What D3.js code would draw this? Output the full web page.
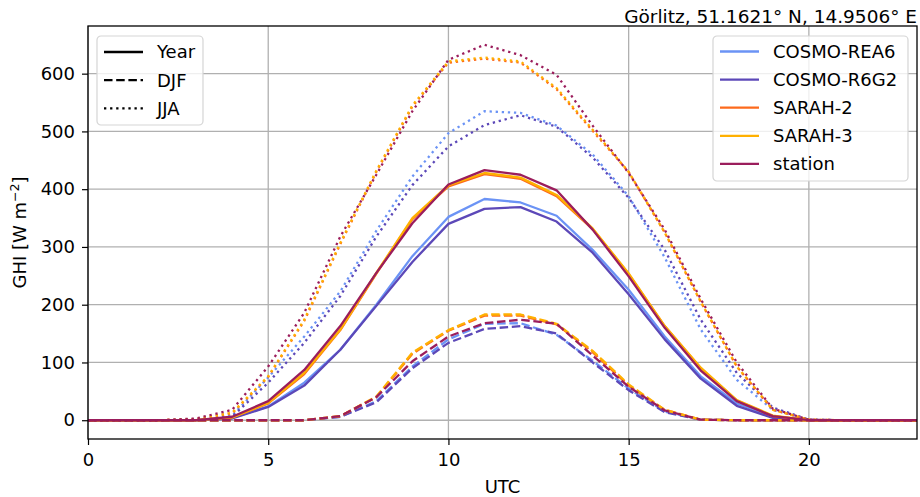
<!DOCTYPE html>
<html>
<head>
<meta charset="utf-8">
<script src="https://cdn.jsdelivr.net/npm/d3@7"></script>
<style>
  body { margin: 0; background: #fff; }
  svg { font-family: "DejaVu Sans", sans-serif; }
</style>
</head>
<body>
<div id="chart_area"></div>
<script>
// hours of the day (UTC)
var hours = d3.range(0, 24);

var datasets = ["COSMO-REA6", "COSMO-R6G2", "SARAH-2", "SARAH-3", "station"];
var colors = ["#6b93f5", "#5c48b8", "#fd6a1c", "#ffb000", "#9b1d5c"];
var periods = ["Year", "DJF", "JJA"];

// mean diurnal GHI, W m-2
var rea6Year  = [0,0,0,0,4,24,65,122,200,284,352,383,377,354,295,226,145,76,29,6,0,0,0,0];
var r6g2Year  = [0,0,0,0,3,23,60,122,198,274,340,366,369,344,290,218,140,72,25,4,0,0,0,0];
var sarah2Year = [0,0,0,0,5,29,80,156,254,348,405,426,418,388,331,253,163,90,34,7,0,0,0,0];
var sarah3Year = [0,0,0,0,5,30,82,157,255,350,407,428,420,390,332,254,163,91,35,8,0,0,0,0];
var stationYear = [0,0,0,0,6,33,87,163,255,341,408,433,425,398,330,249,160,86,33,7,0,0,0,0];

var rea6DJF  = [0,0,0,0,0,0,0,6,33,93,140,167,168,148,103,55,15,1,0,0,0,0,0,0];
var r6g2DJF  = [0,0,0,0,0,0,0,6,31,90,134,158,163,150,100,52,14,1,0,0,0,0,0,0];
var sarah2DJF = [0,0,0,0,0,0,0,7,40,115,155,181,181,166,118,60,18,1,0,0,0,0,0,0];
var sarah3DJF = [0,0,0,0,0,0,0,7,41,117,156,183,183,167,120,62,18,1,0,0,0,0,0,0];
var stationDJF = [0,0,0,0,0,0,0,7,40,102,145,168,174,167,112,58,17,1,0,0,0,0,0,0];

var rea6JJA  = [0,0,0,1,8,74,145,223,328,422,497,535,532,510,460,388,282,157,70,18,1,0,0,0];
var r6g2JJA  = [0,0,0,1,6,65,134,215,318,407,474,511,528,508,455,385,295,174,82,22,1,0,0,0];
var sarah2JJA = [0,0,0,2,12,75,172,305,430,543,619,626,619,573,501,430,325,205,93,18,1,0,0,0];
var sarah3JJA = [0,0,0,2,13,76,174,307,432,545,621,628,621,575,503,430,325,205,93,18,1,0,0,0];
var stationJJA = [0,0,0,3,18,93,186,318,425,535,624,650,632,598,510,428,330,210,100,20,1,0,0,0];

var series = [
  { name: "COSMO-REA6", period: "Year", values: rea6Year },
  { name: "COSMO-REA6", period: "DJF", values: rea6DJF },
  { name: "COSMO-REA6", period: "JJA", values: rea6JJA },
  { name: "COSMO-R6G2", period: "Year", values: r6g2Year },
  { name: "COSMO-R6G2", period: "DJF", values: r6g2DJF },
  { name: "COSMO-R6G2", period: "JJA", values: r6g2JJA },
  { name: "SARAH-2", period: "Year", values: sarah2Year },
  { name: "SARAH-2", period: "DJF", values: sarah2DJF },
  { name: "SARAH-2", period: "JJA", values: sarah2JJA },
  { name: "SARAH-3", period: "Year", values: sarah3Year },
  { name: "SARAH-3", period: "DJF", values: sarah3DJF },
  { name: "SARAH-3", period: "JJA", values: sarah3JJA },
  { name: "station", period: "Year", values: stationYear },
  { name: "station", period: "DJF", values: stationDJF },
  { name: "station", period: "JJA", values: stationJJA }
];

var xTicks = [0, 5, 10, 15, 20];
var yTicks = [0, 100, 200, 300, 400, 500, 600];

var lw = 2.3;
var dashes = { "Year": null, "DJF": (lw * 3.7) + "," + (lw * 1.6), "JJA": lw + "," + (lw * 1.65) };

// set the dimensions and margins of the graph
var margin = { top: 26, right: 3, bottom: 58, left: 88 },
    width = 920 - margin.left - margin.right,
    height = 497 - margin.top - margin.bottom;

var svg = d3.select("#chart_area")
    .append("svg")
    .attr("width", 920)
    .attr("height", 497)
    .append("g")
    .attr("transform", "translate(" + margin.left + "," + margin.top + ")");

var x = d3.scaleLinear().domain([0, 23]).range([0, width]);
var y = d3.scaleLinear().domain([-32.5, 682.5]).range([height, 0]);

// grid
svg.append("g")
    .selectAll("line.vgrid")
    .data(xTicks)
    .enter().append("line")
    .attr("x1", function (d) { return x(d); })
    .attr("x2", function (d) { return x(d); })
    .attr("y1", 0).attr("y2", height)
    .attr("stroke", "#b0b0b0").attr("stroke-width", 1.3);
svg.append("g")
    .selectAll("line.hgrid")
    .data(yTicks)
    .enter().append("line")
    .attr("y1", function (d) { return y(d); })
    .attr("y2", function (d) { return y(d); })
    .attr("x1", 0).attr("x2", width)
    .attr("stroke", "#b0b0b0").attr("stroke-width", 1.3);

svg.append("clipPath").attr("id", "clip")
    .append("rect").attr("width", width).attr("height", height);

var line = d3.line()
    .x(function (d, i) { return x(hours[i]); })
    .y(function (d) { return y(d); });

svg.append("g")
    .attr("clip-path", "url(#clip)")
    .selectAll("path")
    .data(series)
    .enter().append("path")
    .attr("d", function (d) { return line(d.values); })
    .attr("fill", "none")
    .attr("stroke", function (d) { return colors[datasets.indexOf(d.name)]; })
    .attr("stroke-width", lw)
    .attr("stroke-linejoin", "round")
    .attr("stroke-dasharray", function (d) { return dashes[d.period]; });

// axes
var xAxis = svg.append("g")
    .attr("transform", "translate(0," + height + ")")
    .call(d3.axisBottom(x).tickValues(xTicks).tickSize(6).tickPadding(8));
var yAxis = svg.append("g")
    .call(d3.axisLeft(y).tickValues(yTicks).tickSize(6).tickPadding(7));
[xAxis, yAxis].forEach(function (a) {
    a.select(".domain").remove();
    a.selectAll("line").attr("stroke", "#000").attr("stroke-width", 1.2);
    a.selectAll("text").attr("font-size", 18).attr("fill", "#000")
        .attr("font-family", "DejaVu Sans");
});

// frame
svg.append("rect")
    .attr("width", width).attr("height", height)
    .attr("fill", "none").attr("stroke", "#000").attr("stroke-width", 1.3);

// labels
svg.append("text")
    .attr("x", width / 2).attr("y", height + 54)
    .attr("text-anchor", "middle").attr("font-size", 18)
    .text("UTC");

var yl = svg.append("text")
    .attr("transform", "translate(-62," + (height / 2) + ")rotate(-90)")
    .attr("text-anchor", "middle").attr("font-size", 18);
yl.append("tspan").text("GHI [W m");
yl.append("tspan").attr("font-size", 12.5).attr("dy", -7).text("\u22122");
yl.append("tspan").attr("dy", 7).text("]");

svg.append("text")
    .attr("x", width).attr("y", -3)
    .attr("text-anchor", "end").attr("font-size", 18.5)
    .text("Görlitz, 51.1621° N, 14.9506° E");

// legend: line styles
var leg1 = svg.append("g").attr("transform", "translate(9,10)");
leg1.append("rect")
    .attr("width", 106).attr("height", 89).attr("rx", 4)
    .attr("fill", "#fff").attr("fill-opacity", 0.8)
    .attr("stroke", "#d5d5d5").attr("stroke-width", 1.2);
periods.forEach(function (p, i) {
    var g = leg1.append("g").attr("transform", "translate(0," + (16 + i * 28.2) + ")");
    g.append("line").attr("x1", 7).attr("x2", 46)
        .attr("stroke", "#000").attr("stroke-width", lw)
        .attr("stroke-dasharray", dashes[p]);
    g.append("text").attr("x", 60).attr("dy", "0.36em")
        .attr("font-size", 18).text(p);
});

// legend: datasets
var leg2 = svg.append("g").attr("transform", "translate(625,10)");
leg2.append("rect")
    .attr("width", 195).attr("height", 145).attr("rx", 4)
    .attr("fill", "#fff").attr("fill-opacity", 0.8)
    .attr("stroke", "#d5d5d5").attr("stroke-width", 1.2);
datasets.forEach(function (n, i) {
    var g = leg2.append("g").attr("transform", "translate(0," + (15.5 + i * 28.1) + ")");
    g.append("line").attr("x1", 7).attr("x2", 46)
        .attr("stroke", colors[i]).attr("stroke-width", lw);
    g.append("text").attr("x", 60).attr("dy", "0.36em")
        .attr("font-size", 18).text(n);
});
</script>
</body>
</html>
